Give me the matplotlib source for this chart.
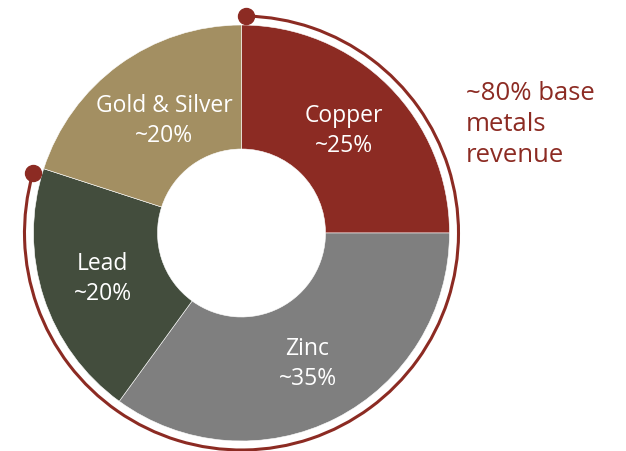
import numpy as np
import matplotlib
matplotlib.use('Agg')
import matplotlib.pyplot as plt
from matplotlib.patches import Arc

labels = ['Copper', 'Zinc', 'Lead', 'Gold & Silver']
shares = [25, 35, 20, 20]
pct_text = ['~25%', '~35%', '~20%', '~20%']
colors = ['#8C2B23', '#7F7F7F', '#434D3D', '#A38F62']
note_lines = ['~80% base', 'metals', 'revenue']
red = '#8C2B23'

W, H = 626, 451
fig = plt.figure(figsize=(W / 100, H / 100), dpi=100)
ax = fig.add_axes([0, 0, 1, 1])

cx, cy = 241.5, H - 233
R = 208
hole = 84

ax.pie(shares, center=(cx, cy), radius=R, startangle=90, counterclock=False,
       colors=colors, wedgeprops=dict(width=R - hole, edgecolor='white', linewidth=0.4))

# labels inside the wedges (x centre, baseline of first line in px from top)
label_pos = [(344, 122), (307.5, 355), (102.5, 270), (164, 112)]
for (x, y), name, pct in zip(label_pos, labels, pct_text):
    ax.text(x, H - y, name, ha='center', va='baseline', color='white',
            fontsize=16.5, family='Open Sans')
    ax.text(x, H - y - 30, pct, ha='center', va='baseline', color='white',
            fontsize=16.5, family='Open Sans')

# outer arc marking the base metals share
ra = 217
a_start, a_end = 88.8, 164
ax.add_patch(Arc((cx, cy), 2 * ra, 2 * ra, theta1=a_end, theta2=a_start,
                 color=red, lw=2.2))
for a in (a_start, a_end):
    ax.plot(cx + ra * np.cos(np.radians(a)), cy + ra * np.sin(np.radians(a)),
            'o', color=red, markersize=11.5)

for i, line in enumerate(note_lines):
    ax.text(466, H - 100 - 31 * i, line, ha='left', va='baseline', color=red,
            fontsize=18.5, family='Open Sans')

ax.set_xlim(0, W)
ax.set_ylim(0, H)
ax.set_aspect('auto')
ax.axis('off')

fig.savefig('out.png', dpi=100)
